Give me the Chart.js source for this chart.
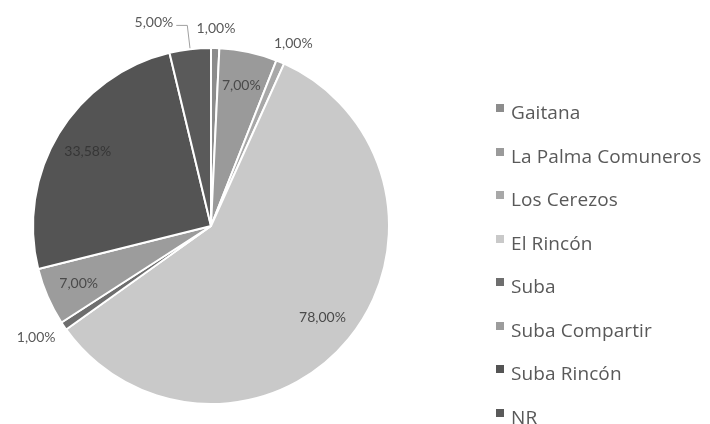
<!DOCTYPE html>
<html lang="es">
<head>
<meta charset="UTF-8">
<title>Barrios</title>
<script src="https://cdn.jsdelivr.net/npm/chart.js"></script>
<style>
  html, body { margin: 0; padding: 0; background: #fff; }
  body { font-family: "Open Sans", Lato, sans-serif; }
  #wrap { position: relative; width: 710px; height: 424px; }
  #legend { position: absolute; left: 496px; top: 91px; margin: 0; padding: 0; list-style: none; }
  #legend li { height: 43.5px; line-height: 43.5px; font-size: 19px; letter-spacing: 0.1px; color: #595959; white-space: nowrap; }
  #legend span.box { display: inline-block; width: 8px; height: 8px; margin-right: 7px; vertical-align: 7px; }
</style>
</head>
<body>
<div id="wrap">
  <canvas id="pie" width="710" height="424"></canvas>
  <ul id="legend"></ul>
</div>
<script>
// datos del gráfico
var categorias = ['Gaitana', 'La Palma Comuneros', 'Los Cerezos', 'El Rincón', 'Suba', 'Suba Compartir', 'Suba Rincón', 'NR'];
var valores = [1, 7, 1, 78, 1, 7, 33.58, 5];
var colores = ['#8c8c8c', '#9a9a9a', '#a8a8a8', '#c9c9c9', '#6e6e6e', '#9c9c9c', '#545454', '#5a5a5a'];

function fmt(v) {
  return v.toFixed(2).replace('.', ',') + '%';
}

// etiquetas de porcentaje sobre las porciones
var etiquetas = {
  id: 'etiquetas',
  afterDatasetsDraw: function (chart) {
    var ctx = chart.ctx;
    var meta = chart.getDatasetMeta(0);
    ctx.save();
    ctx.font = '14px Lato, "Open Sans", sans-serif';
    ctx.textBaseline = 'middle';
    meta.data.forEach(function (arc, i) {
      var p = arc.getProps(['x', 'y', 'startAngle', 'endAngle', 'outerRadius'], true);
      var mid = (p.startAngle + p.endAngle) / 2;
      var ux = Math.cos(mid), uy = Math.sin(mid);
      var R = p.outerRadius;
      var txt = fmt(valores[i]);
      var w = ctx.measureText(txt).width, h = 12;
      if (valores[i] > 5) {
        // dentro: texto oscuro sobre la porción
        ctx.fillStyle = valores[i] > 30 && valores[i] < 50 ? '#363636' : '#4a4a4a';
        ctx.textAlign = 'center';
        ctx.fillText(txt, p.x + ux * R * 0.81, p.y + uy * R * 0.81);
      } else if (valores[i] === 5) {
        // línea guía
        var x1 = p.x + ux * (R + 1), y1 = p.y + uy * (R + 1);
        var x2 = p.x + ux * (R + 24), y2 = p.y + uy * (R + 24);
        ctx.strokeStyle = '#a0a0a0';
        ctx.lineWidth = 1;
        ctx.beginPath();
        ctx.moveTo(x1, y1);
        ctx.lineTo(x2, y2);
        ctx.lineTo(x2 - 11, y2);
        ctx.stroke();
        ctx.fillStyle = '#595959';
        ctx.textAlign = 'right';
        ctx.fillText(txt, x2 - 14, y2 - 3);
      } else {
        var d = R + 14;
        ctx.fillStyle = '#595959';
        ctx.textAlign = 'center';
        ctx.fillText(txt, p.x + ux * d + ux * w / 2, p.y + uy * d + uy * h / 2);
      }
    });
    ctx.restore();
  }
};

var chart = new Chart(document.getElementById('pie').getContext('2d'), {
  type: 'pie',
  data: {
    labels: categorias,
    datasets: [{
      data: valores,
      backgroundColor: colores,
      borderColor: '#ffffff',
      borderWidth: 2
    }]
  },
  options: {
    responsive: false,
    animation: false,
    layout: { padding: { left: 32, right: 320, top: 47, bottom: 19 } },
    plugins: {
      legend: { display: false },
      tooltip: { enabled: false }
    }
  },
  plugins: [etiquetas]
});

// leyenda en HTML a partir de la leyenda del gráfico
var ul = document.getElementById('legend');
chart.options.plugins.legend.labels.generateLabels(chart).forEach(function (item) {
  var li = document.createElement('li');
  var box = document.createElement('span');
  box.className = 'box';
  box.style.background = item.fillStyle;
  li.appendChild(box);
  li.appendChild(document.createTextNode(item.text));
  ul.appendChild(li);
});
</script>
</body>
</html>
